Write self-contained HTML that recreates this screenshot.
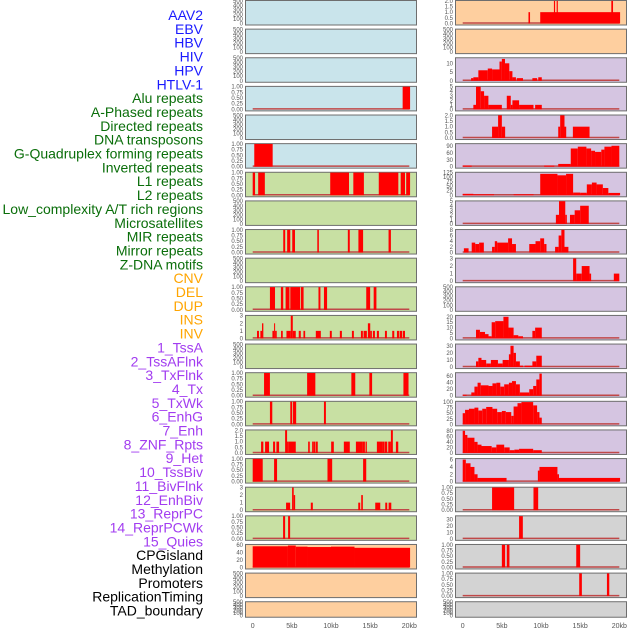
<!DOCTYPE html>
<html><head><meta charset="utf-8"><style>
html,body{margin:0;padding:0;background:#fff;}
svg{display:block;font-family:"Liberation Sans",sans-serif;}
</style></head><body>
<svg id="chart" width="630" height="630" viewBox="0 0 630 630"></svg>
<script>
// ===== label data =====
const labelNames = ["AAV2","EBV","HBV","HIV","HPV","HTLV-1","Alu repeats","A-Phased repeats","Directed repeats","DNA transposons","G-Quadruplex forming repeats","Inverted repeats","L1 repeats","L2 repeats","Low_complexity A/T rich regions","Microsatellites","MIR repeats","Mirror repeats","Z-DNA motifs","CNV","DEL","DUP","INS","INV","1_TssA","2_TssAFlnk","3_TxFlnk","4_Tx","5_TxWk","6_EnhG","7_Enh","8_ZNF_Rpts","9_Het","10_TssBiv","11_BivFlnk","12_EnhBiv","13_ReprPC","14_ReprPCWk","15_Quies","CPGisland","Methylation","Promoters","ReplicationTiming","TAD_boundary"];
const labelGroups = [0,0,0,0,0,0,1,1,1,1,1,1,1,1,1,1,1,1,1,2,2,2,2,2,3,3,3,3,3,3,3,3,3,3,3,3,3,3,3,4,4,4,4,4];
const groupColors = ["#1a1aff","#0a6e0a","#ffa500","#a23cf0","#000000"];
const xTickValues = [0,5,10,15,20];
const xTickLabels = ["0","5kb","10kb","15kb","20kb"];

// ===== tick sets =====
const T500 = [0,100,200,300,400,500];
const T1 = [0,0.25,0.5,0.75,1];
const T2 = [0,0.5,1,1.5,2];
const T3 = [0,1,2,3];

// ===== left column segment data [startKb, endKb, value] =====
const L3 = [[19.15,20.1,1]];
const L5 = [[0.2,2.55,1]];
const L6 = [[0,0.3,1],[0.7,1.55,1],[9.9,12.3,1],[12.85,14.2,1],[16.1,18.6,1],[18.9,19.45,1],[19.6,20.1,1]];
const L8 = [[3.9,4.15,1],[4.4,4.8,1],[5.05,5.4,1],[8.25,8.45,1],[12.15,12.4,1],[13.5,14.1,1],[17.35,17.65,1]];
const L10 = [[2.2,2.85,1],[3.6,3.9,1],[4.2,4.7,1],[4.8,6.05,1],[6.15,6.5,1],[8.4,8.65,1],[9.1,9.5,1],[14.5,15.0,1],[15.45,15.8,1]];
const L11 = [[0.55,0.8,1],[0.98,1.19,1],[1.19,1.36,2],[2.52,2.73,1],[2.73,2.86,2],[2.86,3.07,1],[3.62,3.84,1],[4.31,4.86,1],[4.86,5.12,3],[5.12,5.5,1],[5.88,6.14,1],[6.48,6.7,1],[8.06,8.7,1],[9.85,10.1,1],[11.13,11.39,1],[12.67,12.92,1],[13.82,14.07,1],[14.16,14.58,1],[14.71,15.01,2],[15.01,15.22,1],[15.35,15.61,1],[15.86,16.12,1],[16.89,17.14,1],[17.82,18.08,1],[18.42,18.68,1],[18.76,19.1,1],[19.19,19.45,1]];
const L13 = [[1.45,2.2,1],[6.95,8.0,1],[12.6,13.1,1],[14.9,15.25,1],[19.25,19.9,1]];
const L14 = [[2.2,2.5,1],[4.8,5.05,1],[5.15,5.55,1],[9.1,9.35,1]];
const L15 = [[1.07,1.36,1],[1.58,2.09,1],[2.6,2.86,1],[3.03,3.37,1],[4.14,4.39,2],[4.39,4.6,1],[4.6,5.5,1],[7.08,7.29,1],[7.59,7.8,1],[7.8,8.0,1],[8.06,8.31,1],[10.02,10.36,1],[11.64,12.4,1],[13.18,14.07,1],[14.07,14.33,1],[14.41,14.58,1],[15.86,16.63,1],[16.63,16.8,1],[16.84,17.18,1],[17.31,17.65,1],[17.65,17.9,2],[18.29,18.59,1]];
const L16 = [[0,1.28,1],[2.73,3.11,1],[9.55,10.15,1],[14.1,14.5,1]];
const L17 = [[4.26,4.78,1],[5.03,5.24,3],[5.24,5.42,2],[7.42,7.68,1],[13.48,13.73,1],[13.86,14.07,2],[15.65,16.29,1],[16.93,17.18,1],[17.36,17.7,1]];
const L18 = [[3.88,4.14,1],[4.52,4.78,1]];
const L19 = [[0,4.5,56],[4.5,5.5,58],[5.5,7,55],[7,10,54],[10,13,55],[13,20.1,52]];

// ===== right column segment data =====
const R0 = [[8.4,8.6,1],[9.9,20.1,1],[11.65,11.8,2],[12.0,12.15,2],[18.98,19.2,2]];
const R2 = [[1.07,1.36,1.5],[1.36,2.0,2],[2.0,3.2,6],[3.2,3.75,7],[3.75,4.7,6.5],[4.7,5.0,11],[5.0,5.4,12.5],[5.4,5.95,10],[5.95,6.35,5.5],[6.35,6.8,2],[6.9,7.7,1.5],[8.9,9.5,1.5],[9.65,10.1,2]];
const R3 = [[1.36,1.7,1],[1.7,2.3,5],[2.3,2.73,4],[2.73,3.28,3],[3.28,5.0,1],[5.63,6.14,3],[6.14,6.35,1],[6.35,7.2,2],[7.2,9.04,1],[9.25,10.1,1]];
const R4 = [[3.75,4.52,1],[4.52,5.0,2],[5.0,5.42,1],[12.2,12.45,1],[12.45,13.0,2],[13.0,13.22,1],[14.07,16.2,1]];
const R5 = [[0,1.15,5],[10.4,11.7,5],[12.2,13.8,12],[13.8,14.7,80],[14.7,15.8,88],[15.8,16.4,80],[16.4,16.9,70],[16.9,17.7,65],[17.7,18.1,75],[18.1,19.0,88],[19.0,20.0,92]];
const R6 = [[0,1.36,8],[1.36,4.0,5],[6.5,9.05,5],[9.9,12.1,118],[12.1,13.2,110],[13.2,14.1,118],[14.1,15.0,15],[15.0,15.85,14],[15.85,16.5,60],[16.5,17.1,70],[17.1,17.9,60],[17.9,18.6,40],[18.6,20.1,13]];
const R7 = [[11.9,12.3,2],[12.3,13.1,5],[13.1,13.3,2],[13.7,14.3,2],[14.3,15.0,3],[15.0,16.1,4]];
const R8 = [[0.15,0.75,1.5],[1.15,1.6,3.5],[1.6,2.1,3],[2.1,2.7,3.5],[3.75,4.1,2],[4.1,4.4,4],[4.4,5.8,3.5],[5.8,6.3,5],[6.3,6.8,3],[8.5,9.3,3],[9.3,9.9,4],[9.9,10.4,5],[10.4,10.7,3],[11.8,12.25,2],[12.25,12.6,6],[12.6,13.0,8],[13.0,13.5,2]];
const R9 = [[14.1,14.5,3],[14.5,15.2,1],[15.2,16.2,2],[16.2,16.4,1],[19.3,20.0,1]];
const R11 = [[1.7,2.2,8],[2.2,2.85,6],[2.85,3.3,4],[3.3,3.7,2],[3.7,4.15,15],[4.15,5.2,16],[5.2,5.85,20],[5.85,6.5,10],[6.5,7.1,3],[7.1,7.7,2],[8.9,9.25,7],[9.25,10.1,10]];
const R12 = [[1.7,2.0,8],[2.0,2.4,13],[2.4,3.0,10],[3.0,3.6,5],[3.6,4.5,10],[4.5,5.1,5],[5.1,5.9,10],[5.9,6.1,18],[6.1,6.5,30],[6.5,6.8,20],[6.8,7.3,8],[7.3,7.7,2],[7.9,8.9,2],[8.9,9.4,8],[9.4,10.1,16]];
const R13 = [[0,0.5,3],[1.1,1.5,10],[1.5,1.9,28],[1.9,2.3,40],[2.3,3.3,32],[3.3,3.8,30],[3.8,4.3,38],[4.3,4.8,40],[4.8,5.3,28],[5.3,5.9,35],[5.9,6.3,40],[6.3,6.8,45],[6.8,7.3,35],[7.3,8.5,10],[8.5,9.0,20],[9.0,9.4,30],[9.4,9.8,50],[9.8,10.1,68]];
const R14 = [[0,0.3,50],[0.3,0.8,65],[0.8,1.5,70],[1.5,2.0,75],[2.0,2.5,62],[2.5,3.0,70],[3.0,3.8,78],[3.8,4.4,70],[4.4,5.0,55],[5.0,5.5,60],[5.5,6.2,55],[6.2,6.5,38],[6.5,7.0,80],[7.0,7.5,95],[7.5,9.0,100],[9.0,9.5,85],[9.5,9.8,55],[9.8,10.1,30]];
const R15 = [[0,0.3,80],[0.3,0.6,65],[0.6,1.5,55],[1.5,1.9,40],[1.9,2.4,30],[2.4,3.7,25],[3.7,4.3,20],[4.3,5.3,30],[5.3,6.0,20],[6.0,6.6,10],[6.6,7.2,12],[7.2,9.0,15],[9.0,10.1,10]];
const R16 = [[0,0.4,6],[0.4,1.0,5],[1.0,1.5,4],[1.5,1.9,2],[1.9,5.6,1],[9.6,9.8,3],[9.8,12.1,4],[12.1,12.3,2],[12.3,20.1,1]];
const R17 = [[3.75,6.57,1],[9.04,9.64,1]];
const R18 = [[7.2,7.68,35]];
const R19 = [[5.0,5.42,1],[5.63,5.97,1],[14.5,15.0,1]];
const R20 = [[14.88,15.22,1],[18.42,18.72,1]];

// ===== panel specs: col,row,bg,ymax,ticks,decimals,data =====
const panels = [
 [0,0,'b',500,T500,0,null],[0,1,'b',500,T500,0,null],[0,2,'b',500,T500,0,null],
 [0,3,'b',1,T1,2,L3],[0,4,'b',500,T500,0,null],[0,5,'b',1,T1,2,L5],
 [0,6,'g',1,T1,2,L6],[0,7,'g',500,T500,0,null],[0,8,'g',1,T1,2,L8],
 [0,9,'g',500,T500,0,null],[0,10,'g',1,T1,2,L10],[0,11,'g',3,T3,0,L11],
 [0,12,'g',500,T500,0,null],[0,13,'g',1,T1,2,L13],[0,14,'g',1,T1,2,L14],
 [0,15,'g',2,T2,1,L15],[0,16,'g',1,T1,2,L16],[0,17,'g',3,T3,0,L17],
 [0,18,'g',1,T1,2,L18],[0,19,'o',60,[0,20,40,60],0,L19],[0,20,'o',500,T500,0,null],[0,21,'o',500,T500,0,null],
 [1,0,'o',2,T2,1,R0],[1,1,'o',500,T500,0,null],[1,2,'p',13,[0,5,10],0,R2],
 [1,3,'p',5,[0,1,2,3,4,5],0,R3],[1,4,'p',2,T2,1,R4],[1,5,'p',100,[0,30,60,90],0,R5],
 [1,6,'p',125,[0,25,50,75,100,125],0,R6],[1,7,'p',5,[0,1,2,3,4,5],0,R7],[1,8,'p',8,[0,2,4,6,8],0,R8],
 [1,9,'p',3,T3,0,R9],[1,10,'p',500,T500,0,null],[1,11,'p',21,[0,5,10,15,20],0,R11],
 [1,12,'p',32,[0,10,20,30],0,R12],[1,13,'p',70,[0,20,40,60],0,R13],[1,14,'p',102,[0,25,50,75,100],0,R14],
 [1,15,'p',82,[0,20,40,60,80],0,R15],[1,16,'p',6.2,[0,2,4,6],0,R16],[1,17,'x',1,T1,2,R17],
 [1,18,'x',35,[0,10,20,30],0,R18],[1,19,'x',1,T1,2,R19],[1,20,'x',1,T1,2,R20],[1,21,'x',500,T500,0,null]
];
const bgColors = {b:'#c9e4eb',g:'#c8e0a3',o:'#fecf9f',p:'#d5c5e1',x:'#d3d3d3'};

const NS='http://www.w3.org/2000/svg';
const svg=document.getElementById('chart');
function mk(tag,attrs,parent){const e=document.createElementNS(NS,tag);for(const k in attrs)e.setAttribute(k,attrs[k]);(parent||svg).appendChild(e);return e;}

const colX=[245,455], panelW=171, rowPitch=28.63, panelH=24.5;
function xScale(col,kb){return colX[col]+7.7+kb*7.83;}
function rowTop(r){return r*rowPitch;}
function rowH(r){return r===21?15.5:panelH;}
function yScale(r,R,v){const t=rowTop(r),h=rowH(r);return (t+h-1)-v/R*(h-1.8);}

// labels
labelNames.forEach((n,i)=>{
  const t=mk('text',{x:203,y:(20+i*13.85).toFixed(2),'text-anchor':'end','font-size':14,fill:groupColors[labelGroups[i]]});
  
  
  t.textContent=n;
});

// panels
panels.forEach(p=>{
  const [c,r,bg,R,ticks,dec,data]=p;
  const g=mk('g',{});
  
  
  const t=rowTop(r),h=rowH(r);
  mk('rect',{x:colX[c]+0.5,y:t+0.5,width:panelW,height:h,fill:bgColors[bg],stroke:'#6e6e6e','stroke-width':1},g);
  ticks.forEach(v=>{
    const tx=mk('text',{x:colX[c]-2,y:(yScale(r,R,v)+2).toFixed(2),'text-anchor':'end','font-size':6,fill:'#555'},g);
    
    
    tx.textContent=v.toFixed(dec);
  });
  if(data){
    mk('line',{x1:xScale(c,0),x2:xScale(c,20),y1:yScale(r,R,0)-0.5,y2:yScale(r,R,0)-0.5,stroke:'#c04848','stroke-width':1.5},g);
    data.forEach(s=>{
      const y0=yScale(r,R,0),y1=yScale(r,R,s[2]);
      const b=mk('rect',{x:xScale(c,s[0]).toFixed(2),y:y1.toFixed(2),width:Math.max(1,xScale(c,s[1])-xScale(c,s[0])).toFixed(2),height:(y0-y1).toFixed(2),fill:'#ff0000'},g);
      
      
    });
  }
});

// x axes
[0,1].forEach(c=>{
  xTickValues.forEach((v,i)=>{
    const t=mk('text',{x:xScale(c,v),y:628,'text-anchor':'middle','font-size':7,fill:'#555'});
    
    
    t.textContent=xTickLabels[i];
  });
});
</script>
</body></html>
